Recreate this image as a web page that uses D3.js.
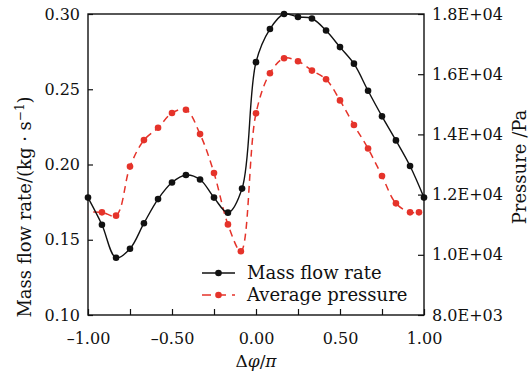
<!DOCTYPE html>
<html>
<head>
<meta charset="utf-8">
<script src="https://cdn.jsdelivr.net/npm/d3@7"></script>
<style>
  body { margin: 0; background: #fff; }
  text { font-family: "DejaVu Serif", serif; fill: #111; }
</style>
</head>
<body>
<div id="chart"></div>
<script>
// Data
const phi = [-1.0, -0.917, -0.833, -0.75, -0.667, -0.583, -0.5, -0.417, -0.333, -0.25, -0.167, -0.083,
    0.0, 0.083, 0.167, 0.25, 0.333, 0.417, 0.5, 0.583, 0.667, 0.75, 0.833, 0.917, 1.0];
const massFlow = [0.178, 0.160, 0.138, 0.144, 0.161, 0.177, 0.188, 0.193, 0.190, 0.178, 0.168, 0.184,
    0.268, 0.290, 0.300, 0.298, 0.297, 0.289, 0.278, 0.267, 0.249, 0.232, 0.216, 0.199, 0.178];
const phiPressure = [-1.04, -0.917, -0.833, -0.75, -0.667, -0.583, -0.5, -0.417, -0.333, -0.25, -0.167, -0.09,
    0.0, 0.083, 0.167, 0.25, 0.333, 0.417, 0.5, 0.583, 0.667, 0.75, 0.833, 0.917, 0.97];
const pressure = [11420, 11410, 11300, 12930, 13810, 14220, 14710, 14820, 14010, 12720, 11010, 10120,
    14700, 16030, 16530, 16430, 16120, 15830, 15130, 14310, 13530, 12620, 11710, 11410, 11410];
const xTicks = [-1, -0.75, -0.5, -0.25, 0, 0.25, 0.5, 0.75, 1];
const xLabels = [-1, -0.5, 0, 0.5, 1];
const leftTicks = [0.10, 0.15, 0.20, 0.25, 0.30];
const rightTicks = [8000, 10000, 12000, 14000, 16000, 18000];

const width = 532, height = 374;
const margin = { left: 88, right: 108, top: 14, bottom: 59 };
const innerW = width - margin.left - margin.right;
const innerH = height - margin.top - margin.bottom;
const red = '#e5332a';

const svg = d3.select('#chart').append('svg')
    .attr('width', width)
    .attr('height', height);

const x = d3.scaleLinear().domain([-1, 1]).range([margin.left, margin.left + innerW]);
const yL = d3.scaleLinear().domain([0.10, 0.30]).range([margin.top + innerH, margin.top]);
const yR = d3.scaleLinear().domain([8000, 18000]).range([margin.top + innerH, margin.top]);

svg.append('clipPath').attr('id', 'clip')
    .append('rect')
    .attr('x', margin.left).attr('y', margin.top - 6)
    .attr('width', innerW).attr('height', innerH + 12);

// Axes (ticks pointing inward)
const bottomAxis = d3.axisBottom(x).tickValues(xTicks).tickSizeInner(-6).tickSizeOuter(0)
    .tickFormat(d => xLabels.includes(d) ? (d < 0 ? '\u2013' + Math.abs(d).toFixed(2) : d.toFixed(2)) : '');
const gx = svg.append('g').attr('transform', `translate(0,${margin.top + innerH})`).call(bottomAxis);
gx.selectAll('text').attr('dy', null).attr('y', 29).style('font-size', '16px');

const leftAxis = d3.axisLeft(yL).tickValues(leftTicks).tickSizeInner(-5).tickSizeOuter(0)
    .tickFormat(d3.format('.2f'));
const gl = svg.append('g').attr('transform', `translate(${margin.left},0)`).call(leftAxis);
gl.selectAll('text').attr('x', -8).style('font-size', '16px');

const rightAxis = d3.axisRight(yR).tickValues(rightTicks).tickSizeInner(-6).tickSizeOuter(0)
    .tickFormat(d => (d / 10000 >= 1 ? (d / 10000).toFixed(1) + 'E+04' : (d / 1000).toFixed(1) + 'E+03'));
const gr = svg.append('g').attr('transform', `translate(${margin.left + innerW},0)`).call(rightAxis);
gr.selectAll('text').attr('x', 8).style('font-size', '16px');

svg.selectAll('.domain').remove();
svg.selectAll('.tick line').attr('stroke', '#111').attr('stroke-width', 1.2);
svg.selectAll('.tick text').attr('fill', '#111').style('font-family', '"DejaVu Serif", serif');

// Frame
svg.append('rect')
    .attr('x', margin.left).attr('y', margin.top)
    .attr('width', innerW).attr('height', innerH)
    .attr('fill', 'none').attr('stroke', '#111').attr('stroke-width', 1.4);

// Lines
const massData = phi.map((p, i) => [p, massFlow[i]]);
const presData = phiPressure.map((p, i) => [p, pressure[i]]);

const plot = svg.append('g').attr('clip-path', 'url(#clip)');

plot.append('path')
    .datum(presData)
    .attr('fill', 'none').attr('stroke', red).attr('stroke-width', 1.5)
    .attr('stroke-dasharray', '7,5')
    .attr('d', d3.line().x(d => x(d[0])).y(d => yR(d[1])).curve(d3.curveCatmullRom));

plot.selectAll('.pdot')
    .data(presData.filter(d => d[0] >= -1))
    .enter().append('circle')
    .attr('cx', d => x(d[0])).attr('cy', d => yR(d[1])).attr('r', 3.3)
    .attr('fill', red);

svg.append('path')
    .datum(massData)
    .attr('fill', 'none').attr('stroke', '#111').attr('stroke-width', 1.4)
    .attr('d', d3.line().x(d => x(d[0])).y(d => yL(d[1])).curve(d3.curveCatmullRom));

svg.selectAll('.mdot')
    .data(massData)
    .enter().append('circle')
    .attr('cx', d => x(d[0])).attr('cy', d => yL(d[1])).attr('r', 3.3)
    .attr('fill', '#111');

// Legend
const legend = svg.append('g').attr('transform', 'translate(202,273)');
legend.append('line').attr('x1', 0).attr('x2', 33).attr('y1', 0).attr('y2', 0)
    .attr('stroke', '#111').attr('stroke-width', 1.4);
legend.append('circle').attr('cx', 16.5).attr('cy', 0).attr('r', 3.3).attr('fill', '#111');
legend.append('text').attr('x', 45).attr('y', 6).style('font-size', '18px').text('Mass flow rate');

legend.append('line').attr('x1', 0).attr('x2', 33).attr('y1', 22).attr('y2', 22)
    .attr('stroke', red).attr('stroke-width', 1.5).attr('stroke-dasharray', '9,6');
legend.append('circle').attr('cx', 16.5).attr('cy', 22).attr('r', 3.3).attr('fill', red);
legend.append('text').attr('x', 45).attr('y', 28).style('font-size', '18px').text('Average pressure');

// Axis titles
svg.append('text')
    .attr('x', margin.left + innerW / 2).attr('y', 367)
    .attr('text-anchor', 'middle').style('font-size', '17px')
    .html('\u0394<tspan font-style="italic">\u03c6</tspan>/<tspan font-style="italic">\u03c0</tspan>');

const yt = svg.append('text')
    .attr('transform', 'translate(31,207) rotate(-90)')
    .attr('text-anchor', 'middle').style('font-size', '18px');
yt.append('tspan').text('Mass flow rate/(kg \u00b7 s');
yt.append('tspan').attr('dy', -7).style('font-size', '12px').text('\u22121');
yt.append('tspan').attr('dy', 7).text(')');

svg.append('text')
    .attr('transform', 'translate(526,167) rotate(-90)')
    .attr('text-anchor', 'middle').style('font-size', '18px')
    .text('Pressure /Pa');
</script>
</body>
</html>
